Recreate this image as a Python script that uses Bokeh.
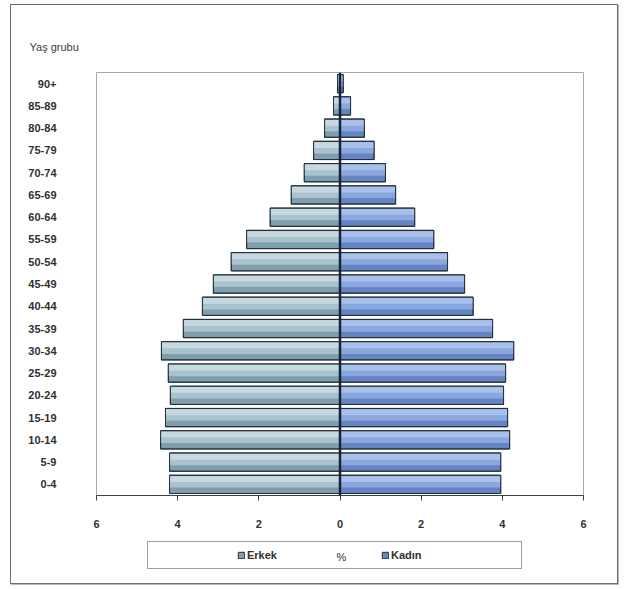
from bokeh.plotting import figure
from bokeh.layouts import column
from bokeh.models import (FactorRange, FixedTicker, Span, Legend, LegendItem,
                          ColumnDataSource, Label)
from bokeh.transform import dodge
from bokeh.embed import file_html
from bokeh.resources import INLINE

age_groups = ["0-4", "5-9", "10-14", "15-19", "20-24", "25-29", "30-34", "35-39",
              "40-44", "45-49", "50-54", "55-59", "60-64", "65-69", "70-74",
              "75-79", "80-84", "85-89", "90+"]
male = [4.20, 4.20, 4.42, 4.30, 4.18, 4.23, 4.40, 3.86, 3.39, 3.12, 2.68, 2.30,
        1.72, 1.20, 0.88, 0.65, 0.38, 0.16, 0.06]
female = [3.96, 3.96, 4.18, 4.13, 4.03, 4.08, 4.28, 3.76, 3.28, 3.07, 2.65, 2.31,
          1.84, 1.37, 1.12, 0.84, 0.60, 0.26, 0.08]
x_ticks = [-6, -4, -2, 0, 2, 4, 6]
x_tick_labels = ["6", "4", "2", "0", "2", "4", "6"]
series_names = ["Erkek", "Kadın"]
unit_label = "%"

FONT = "Liberation Sans"
TXT = "#303030"
MALE_FILL, MALE_MID, MALE_HI = "#7f9fae", "#a9c2ce", "#c6d9e1"
FEM_FILL, FEM_MID, FEM_HI = "#6584c4", "#8aa7de", "#a9c0ea"
EDGE = "#24303c"

src = ColumnDataSource(dict(age=age_groups,
                            male_neg=[-v for v in male],
                            female=female))

p = figure(width=606, height=530, y_range=FactorRange(*age_groups),
           x_range=(-6, 6), output_backend="svg", toolbar_location=None,
           min_border_left=85, min_border_right=34, min_border_top=67,
           min_border_bottom=40)
p.outline_line_color = "#a8a8a8"
p.xgrid.visible = False
p.ygrid.visible = False

# title "Yaş grubu" at top-left
p.title.text = "Yaş grubu"
p.title.align = "left"
p.title.offset = -67
p.title.text_font = FONT
p.title.text_font_size = "11px"
p.title.text_font_style = "normal"
p.title.text_color = "#404040"
p.title.standoff = 39

# bars (base + highlight strips to mimic gradient)
bh = 0.82
p.hbar(y="age", right=0, left="male_neg", height=bh, source=src,
       fill_color=MALE_FILL, line_color=EDGE, line_width=1)
p.hbar(y=dodge("age", 0.12, range=p.y_range), right=0, left="male_neg",
       height=0.52, source=src, fill_color=MALE_MID, line_color=None)
p.hbar(y=dodge("age", 0.24, range=p.y_range), right=0, left="male_neg",
       height=0.26, source=src, fill_color=MALE_HI, line_color=None)
p.hbar(y="age", right=0, left="male_neg", height=bh, source=src,
       fill_color=None, line_color=EDGE, line_width=1)

p.hbar(y="age", left=0, right="female", height=bh, source=src,
       fill_color=FEM_FILL, line_color=EDGE, line_width=1)
p.hbar(y=dodge("age", 0.12, range=p.y_range), left=0, right="female",
       height=0.52, source=src, fill_color=FEM_MID, line_color=None)
p.hbar(y=dodge("age", 0.24, range=p.y_range), left=0, right="female",
       height=0.26, source=src, fill_color=FEM_HI, line_color=None)
p.hbar(y="age", left=0, right="female", height=bh, source=src,
       fill_color=None, line_color=EDGE, line_width=1)

p.add_layout(Span(location=0, dimension="height", line_color="#16243a",
                  line_width=2.5))

# axes
xa = p.xaxis[0]
xa.ticker = FixedTicker(ticks=x_ticks)
xa.major_label_overrides = {t: l for t, l in zip(x_ticks, x_tick_labels)}
xa.minor_tick_line_color = None
xa.major_tick_in = 0
xa.major_tick_out = 5
xa.axis_line_color = "#404040"
xa.major_tick_line_color = "#404040"
xa.major_label_text_font = FONT
xa.major_label_text_font_size = "11px"
xa.major_label_text_font_style = "bold"
xa.major_label_text_color = TXT
xa.major_label_standoff = 19

ya = p.yaxis[0]
ya.axis_line_color = None
ya.major_tick_line_color = None
ya.minor_tick_line_color = None
ya.major_tick_out = 0
ya.major_tick_in = 0
ya.major_label_standoff = 40
ya.major_label_text_font = FONT
ya.major_label_text_font_size = "11px"
ya.major_label_text_font_style = "bold"
ya.major_label_text_color = TXT

# legend strip (separate figure below, sharing the outer border)
q = figure(width=606, height=48, x_range=p.x_range, y_range=p.y_range,
           output_backend="svg", toolbar_location=None,
           x_axis_location=None, y_axis_location=None,
           min_border=0, min_border_left=0, min_border_right=0,
           min_border_top=0, min_border_bottom=0)
q.outline_line_color = None
q.xgrid.visible = False
q.ygrid.visible = False
# legend proxies: same data, hidden in the strip, only their swatches show
lm = q.hbar(y="age", right=0, left="male_neg", height=bh, source=src,
            fill_color=MALE_FILL, line_color=EDGE, line_width=1, visible=False)
lf = q.hbar(y="age", left=0, right="female", height=bh, source=src,
            fill_color=FEM_FILL, line_color=EDGE, line_width=1, visible=False)

legend = Legend(items=[LegendItem(label=series_names[0], renderers=[lm]),
                       LegendItem(label=series_names[1], renderers=[lf])],
                orientation="horizontal", location=(51, 14),
                title=" ", title_location="left", title_standoff=74,
                title_text_font_size="11px",
                padding=3, spacing=7, glyph_width=8, glyph_height=8,
                label_standoff=2, label_width=127, label_height=20,
                label_text_font=FONT, label_text_font_size="11px",
                label_text_font_style="bold", label_text_color=TXT,
                border_line_color="#404040", border_line_width=1,
                background_fill_alpha=0, inactive_fill_alpha=0, margin=0)
q.add_layout(legend)
q.add_layout(Label(x=245, y=27, x_units="screen", y_units="screen",
                   text=unit_label, text_font=FONT, text_font_size="11px",
                   text_color=TXT, text_align="center",
                   text_baseline="middle"))

layout = column(p, q, spacing=0)
layout.styles = {"border": "1px solid #6e6e6e", "margin-left": "10px",
                 "margin-top": "4px", "box-shadow": "1px 1px 0px #b8b8b8",
                 "background-color": "white"}

open("out.html", "w").write(file_html(layout, INLINE))
